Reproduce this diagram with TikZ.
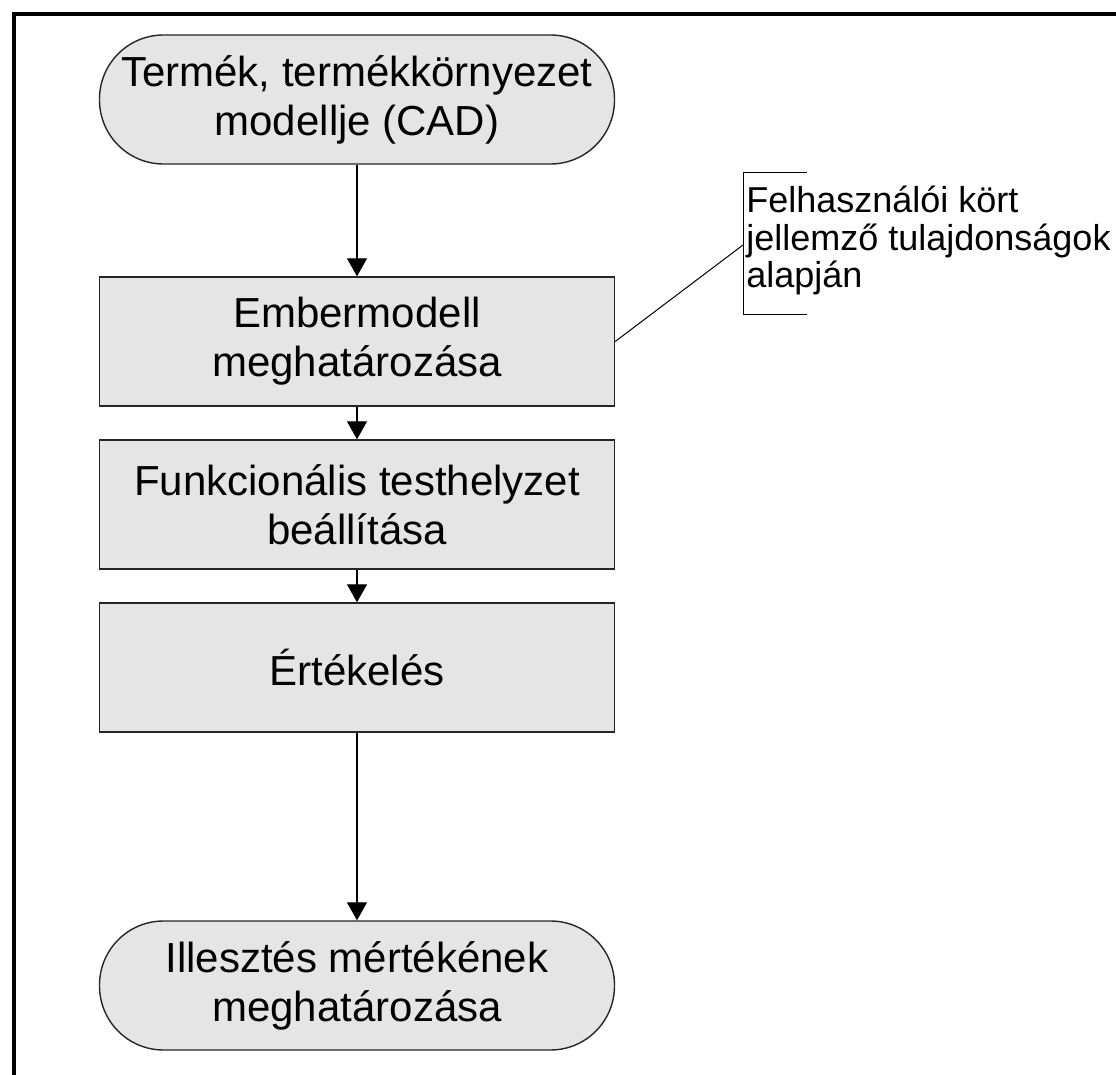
\documentclass[tikz,border=0pt]{standalone}
\usepackage{fontspec}
\setmainfont{Liberation Sans}
\usetikzlibrary{arrows.meta}
\definecolor{boxgray}{HTML}{E5E5E5}
\begin{document}
\begin{tikzpicture}[x=0.5pt,y=-0.5pt,
  procbox/.style={draw=black!85, line width=0.7pt, fill=boxgray, minimum width=257.5pt, minimum height=64.5pt, inner sep=0pt, align=center, font=\fontsize{21pt}{24.5pt}\selectfont},
  termbox/.style={procbox, rounded corners=32pt},
  flow/.style={line width=0.6pt, -{Triangle[width=10pt,length=9pt]}},
  thin/.style={line width=0.5pt}]
\clip (0,0) rectangle (1116,1075);
\draw[line width=1.8pt] (14,1200) -- (14,14) -- (1200,14);
\node[termbox] (start) at (357,99.5) {Termék, termékkörnyezet\\modellje (CAD)};
\node[procbox] (ember) at (357,341.5) {Embermodell\\meghatározása};
\node[procbox] (funk) at (357,504.5) {Funkcionális testhelyzet\\beállítása};
\node[procbox] (ert) at (357,667.5) {Értékelés};
\node[termbox] (end) at (357,985.5) {Illesztés mértékének\\meghatározása};
\draw[flow] (start) -- (ember);
\draw[flow] (ember) -- (funk);
\draw[flow] (funk) -- (ert);
\draw[flow] (ert) -- (end);
\coordinate (btop) at (807,173);
\coordinate (bbot) at (807,315);
\coordinate (blink) at (743,245);
\draw[thin] (btop) -- (743,173) -- (743,315) -- (bbot);
\draw[thin] (ember.east) -- (blink);
\node[anchor=north west, inner sep=0pt, align=left, font=\fontsize{18pt}{18.7pt}\selectfont] (note) at (746,186) {Felhasználói kört\\jellemző tulajdonságok\\alapján};
\end{tikzpicture}
\end{document}
